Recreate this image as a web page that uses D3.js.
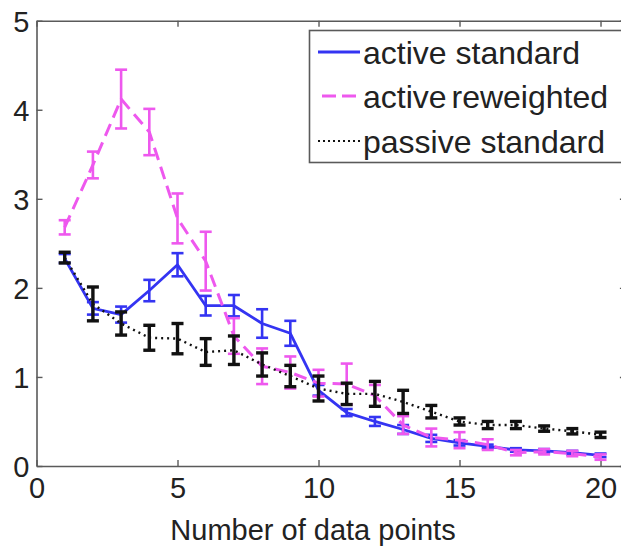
<!DOCTYPE html>
<html>
<head>
<meta charset="utf-8">
<script src="https://cdn.jsdelivr.net/npm/d3@7"></script>
<style>
  html, body { margin: 0; padding: 0; background: #fff; }
  svg { display: block; }
  text { font-family: "Liberation Sans", Arial, Helvetica, sans-serif; fill: #222; }
</style>
</head>
<body>
<svg id="chart" width="621" height="547"></svg>
<script>
// Number of data points on the x axis
const points = d3.range(1, 21);

// Mean error per number of data points, with half-widths of the error bars
const activeStandard      = [2.33, 1.77, 1.70, 1.97, 2.26, 1.80, 1.80, 1.60, 1.49, 0.85, 0.60, 0.50, 0.41, 0.31, 0.26, 0.22, 0.18, 0.17, 0.15, 0.12];
const activeStandardErr   = [0.05, 0.07, 0.09, 0.12, 0.13, 0.11, 0.12, 0.16, 0.14, 0.06, 0.04, 0.05, 0.05, 0.04, 0.03, 0.02, 0.02, 0.02, 0.02, 0.02];

const activeReweighted    = [2.68, 3.38, 4.12, 3.75, 2.78, 2.30, 1.46, 1.12, 1.05, 0.93, 0.92, 0.79, 0.46, 0.32, 0.29, 0.24, 0.15, 0.16, 0.14, 0.10];
const activeReweightedErr = [0.08, 0.15, 0.33, 0.26, 0.28, 0.33, 0.20, 0.20, 0.18, 0.15, 0.23, 0.12, 0.10, 0.10, 0.09, 0.06, 0.03, 0.03, 0.03, 0.03];

const passiveStandard     = [2.34, 1.82, 1.60, 1.44, 1.43, 1.28, 1.30, 1.14, 1.01, 0.87, 0.81, 0.81, 0.72, 0.61, 0.50, 0.46, 0.46, 0.42, 0.39, 0.35];
const passiveStandardErr  = [0.06, 0.19, 0.13, 0.14, 0.17, 0.15, 0.16, 0.13, 0.12, 0.14, 0.12, 0.14, 0.13, 0.07, 0.04, 0.04, 0.04, 0.03, 0.03, 0.03];

const xTicks = [0, 5, 10, 15, 20];
const yTicks = [0, 1, 2, 3, 4, 5];
const seriesNames = ["active standard", "active reweighted", "passive standard"];
const xLabel = "Number of data points";

const svg = d3.select("#chart");
const x = d3.scaleLinear().domain([0, 20.9]).range([36.5, 625.9]);
const y = d3.scaleLinear().domain([0, 5]).range([466, 20.7]);

const series = [
  { name: seriesNames[0], mean: activeStandard,   err: activeStandardErr,   color: "#3434f2", width: 2.8, dash: null },
  { name: seriesNames[1], mean: activeReweighted, err: activeReweightedErr, color: "#ee58ee", width: 3,   dash: "13,7" },
  { name: seriesNames[2], mean: passiveStandard,  err: passiveStandardErr,  color: "#111111", width: 2.4, dash: "2,4" }
];

const axisColor = "#5a5a5a";
const axisFont = 29;

// Box axes with inward ticks on all four sides
const gLeft = svg.append("g").attr("transform", `translate(${x(0)},0)`)
  .call(d3.axisLeft(y).tickValues(yTicks).tickFormat(d3.format("d")).tickSize(-6).tickSizeOuter(0).tickPadding(7));
const gBottom = svg.append("g").attr("transform", `translate(0,${y(0)})`)
  .call(d3.axisBottom(x).tickValues(xTicks).tickFormat(d3.format("d")).tickSize(-6).tickSizeOuter(0).tickPadding(11));
const gTop = svg.append("g").attr("transform", `translate(0,${y(5)})`)
  .call(d3.axisTop(x).tickValues(xTicks).tickFormat("").tickSize(-6).tickSizeOuter(0));
const gRight = svg.append("g").attr("transform", `translate(${x(20.9)},0)`)
  .call(d3.axisRight(y).tickValues(yTicks).tickFormat("").tickSize(-6).tickSizeOuter(0));

[gLeft, gBottom, gTop, gRight].forEach(g => {
  g.select(".domain").attr("stroke", axisColor).attr("stroke-width", 1.6);
  g.selectAll(".tick line").attr("stroke", axisColor).attr("stroke-width", 1.4);
  g.selectAll("text").attr("font-size", axisFont).attr("fill", "#222")
    .attr("font-family", "'Liberation Sans', Arial, Helvetica, sans-serif");
});
gLeft.selectAll("text").attr("dy", "0.36em");
gBottom.selectAll("text").attr("dy", "0.72em");

// X axis title
svg.append("text")
  .attr("x", 313).attr("y", 540)
  .attr("text-anchor", "middle")
  .attr("font-size", axisFont)
  .text(xLabel);

// Series: line, then error bars on top of it
const line = d3.line().x((d, i) => x(points[i])).y(d => y(d));
const capHalf = 6;

series.forEach(s => {
  const g = svg.append("g");
  g.append("path")
    .datum(s.mean)
    .attr("d", line)
    .attr("fill", "none")
    .attr("stroke", s.color)
    .attr("stroke-width", s.width)
    .attr("stroke-dasharray", s.dash)
    .attr("stroke-linejoin", "round");

  const bars = g.selectAll("g.bar").data(s.mean).join("g").attr("class", "bar");
  const barStroke = s.name === seriesNames[2] ? 3.4 : 2.6;
  bars.append("line")
    .attr("x1", (d, i) => x(points[i])).attr("x2", (d, i) => x(points[i]))
    .attr("y1", (d, i) => y(d - s.err[i])).attr("y2", (d, i) => y(d + s.err[i]))
    .attr("stroke", s.color).attr("stroke-width", barStroke);
  bars.append("line")
    .attr("x1", (d, i) => x(points[i]) - capHalf).attr("x2", (d, i) => x(points[i]) + capHalf)
    .attr("y1", (d, i) => y(d + s.err[i])).attr("y2", (d, i) => y(d + s.err[i]))
    .attr("stroke", s.color).attr("stroke-width", barStroke);
  bars.append("line")
    .attr("x1", (d, i) => x(points[i]) - capHalf).attr("x2", (d, i) => x(points[i]) + capHalf)
    .attr("y1", (d, i) => y(d - s.err[i])).attr("y2", (d, i) => y(d - s.err[i]))
    .attr("stroke", s.color).attr("stroke-width", barStroke);
});

// Legend in the upper right corner of the axes
const legend = svg.append("g");
legend.append("rect")
  .attr("x", 309.5).attr("y", 30.5)
  .attr("width", 340).attr("height", 132)
  .attr("fill", "#fff")
  .attr("stroke", axisColor).attr("stroke-width", 1.6);

const rowY = [52, 96, 141];
series.forEach((s, i) => {
  legend.append("line")
    .attr("x1", s.dash === "13,7" ? 322 : 318).attr("x2", 360)
    .attr("y1", rowY[i]).attr("y2", rowY[i])
    .attr("stroke", s.color)
    .attr("stroke-width", s.dash === "2,4" ? 2 : s.width)
    .attr("stroke-dasharray", s.dash === "13,7" ? "14,6" : (s.dash ? "2,3" : null));
  legend.append("text")
    .attr("x", 363).attr("y", rowY[i] + 12)
    .attr("font-size", 32)
    .attr("word-spacing", i === 1 ? -4 : 0)
    .text(s.name);
});
</script>
</body>
</html>
